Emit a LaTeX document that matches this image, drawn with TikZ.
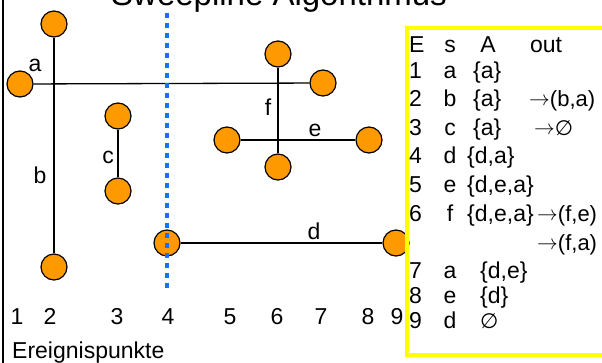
\documentclass[tikz,border=0pt]{standalone}
\usepackage{fontspec}
\setmainfont{Liberation Sans}
\newfontfamily\symfont{DejaVu Sans}
\definecolor{ev}{HTML}{FF9900}
\definecolor{sweep}{HTML}{1A6EFF}
\definecolor{tabframe}{HTML}{FFFF00}
\newcommand{\outarrow}{\raisebox{0.5pt}{$\rightarrow$}}
\newcommand{\emptysym}{{\symfont\fontsize{21}{25}\selectfont ∅}}
\begin{document}
\begin{tikzpicture}[x=1pt,y=-1pt,
  evpt/.style={circle,draw=black,fill=ev,line width=1.2pt,minimum size=26pt,inner sep=0pt},
  seg/.style={draw=black,line width=1.3pt},
  lbl/.style={anchor=base,inner sep=0pt,font=\fontsize{23}{27}\selectfont},
  tb/.style={anchor=base west,inner sep=0pt,font=\fontsize{23}{27}\selectfont},
  tbc/.style={anchor=base,inner sep=0pt,font=\fontsize{23}{27}\selectfont},
  tbo/.style={anchor=base west,inner sep=0pt,font=\fontsize{22}{26}\selectfont}]
\useasboundingbox (0,0) rectangle (602,362);
\fill[white] (0,0) rectangle (602,362);
% left border
\coordinate (lt) at (3,-2);
\coordinate (lb) at (3,364);
\draw[line width=2pt] (lt) -- (lb);
% title
\node[anchor=base,inner sep=0pt,font=\fontsize{33}{38}\selectfont] (title) at (279,5) {Sweepline Algorithmus};
% event points
\node[evpt] (a1) at (20,84) {};
\node[evpt] (a2) at (323,83) {};
\node[evpt] (b1) at (54,24) {};
\node[evpt] (b2) at (54,267) {};
\node[evpt] (c1) at (118,116) {};
\node[evpt] (c2) at (118,191) {};
\node[evpt] (d1) at (167,243) {};
\node[evpt] (d2) at (396,243) {};
\node[evpt] (e1) at (227,140) {};
\node[evpt] (e2) at (369,140) {};
\node[evpt] (f1) at (278,54) {};
\node[evpt] (f2) at (278,167) {};
% segments
\path[seg] (a1) -- (a2);
\path[seg] (b1) -- (b2);
\path[seg] (c1) -- (c2);
\path[seg] (d1) -- (d2);
\path[seg] (e1) -- (e2);
\path[seg] (f1) -- (f2);
% segment labels
\node[lbl] (la) at (35,71) {a};
\node[lbl] (lb2) at (40,183) {b};
\node[lbl] (lc) at (108,163) {c};
\node[lbl] (ld) at (314,239) {d};
\node[lbl] (le) at (315,136) {e};
\node[lbl] (lf) at (268,115) {f};
% sweep line
\coordinate (st) at (167,13);
\coordinate (sb) at (167,291);
\draw[sweep,line width=4.5pt,dash pattern=on 5pt off 5pt] (st) -- (sb);
% event numbers
\foreach \n/\x in {1/17,2/50,3/117,4/168,5/230,6/277,7/321,8/368,9/397}
  \node[lbl] (n\n) at (\x,324) {\n};
\node[anchor=base west,inner sep=0pt,font=\fontsize{23}{27}\selectfont] (ep) at (12,358) {Ereignispunkte};
% table frame
\draw[tabframe,line width=4.5pt] (620,28) -- (407,28) -- (407,355) -- (620,355);
% table
\node[tb] (hE) at (409,52) {E};
\node[tbc] (hs) at (450,52) {s};
\node[tbc] (hA) at (488,52) {A};
\node[tbc] (hout) at (546,52) {out};
\foreach \r/\y/\s in {1/78/a,2/106/b,3/135/c,4/163/d,5/192/e,6/221/f,7/278/a,8/303/e,9/328/d}{
  \node[tb] (r\r) at (409,\y) {\r};
  \node[tbc] (s\r) at (450,\y) {\s};
}
\node[tb] (A1) at (473,78) {\{a\}};
\node[tb] (A2) at (473,106) {\{a\}};
\node[tb] (A3) at (473,135) {\{a\}};
\node[tb] (A4) at (467,163) {\{d,a\}};
\node[tb] (A5) at (467,192) {\{d,e,a\}};
\node[tb] (A6) at (467,221) {\{d,e,a\}};
\node[tb] (A7) at (480,278) {\{d,e\}};
\node[tb] (A8) at (480,303) {\{d\}};
\node[tb] (A9) at (480,328) {\emptysym};
\node[tbo] (o2) at (529,106) {\outarrow(b,a)};
\node[tbo] (o3) at (534,135) {\outarrow\emptysym};
\node[tbo] (o6) at (537,221) {\outarrow(f,e)};
\node[tbo] (o6b) at (537,250) {\outarrow(f,a)};
\end{tikzpicture}
\end{document}
